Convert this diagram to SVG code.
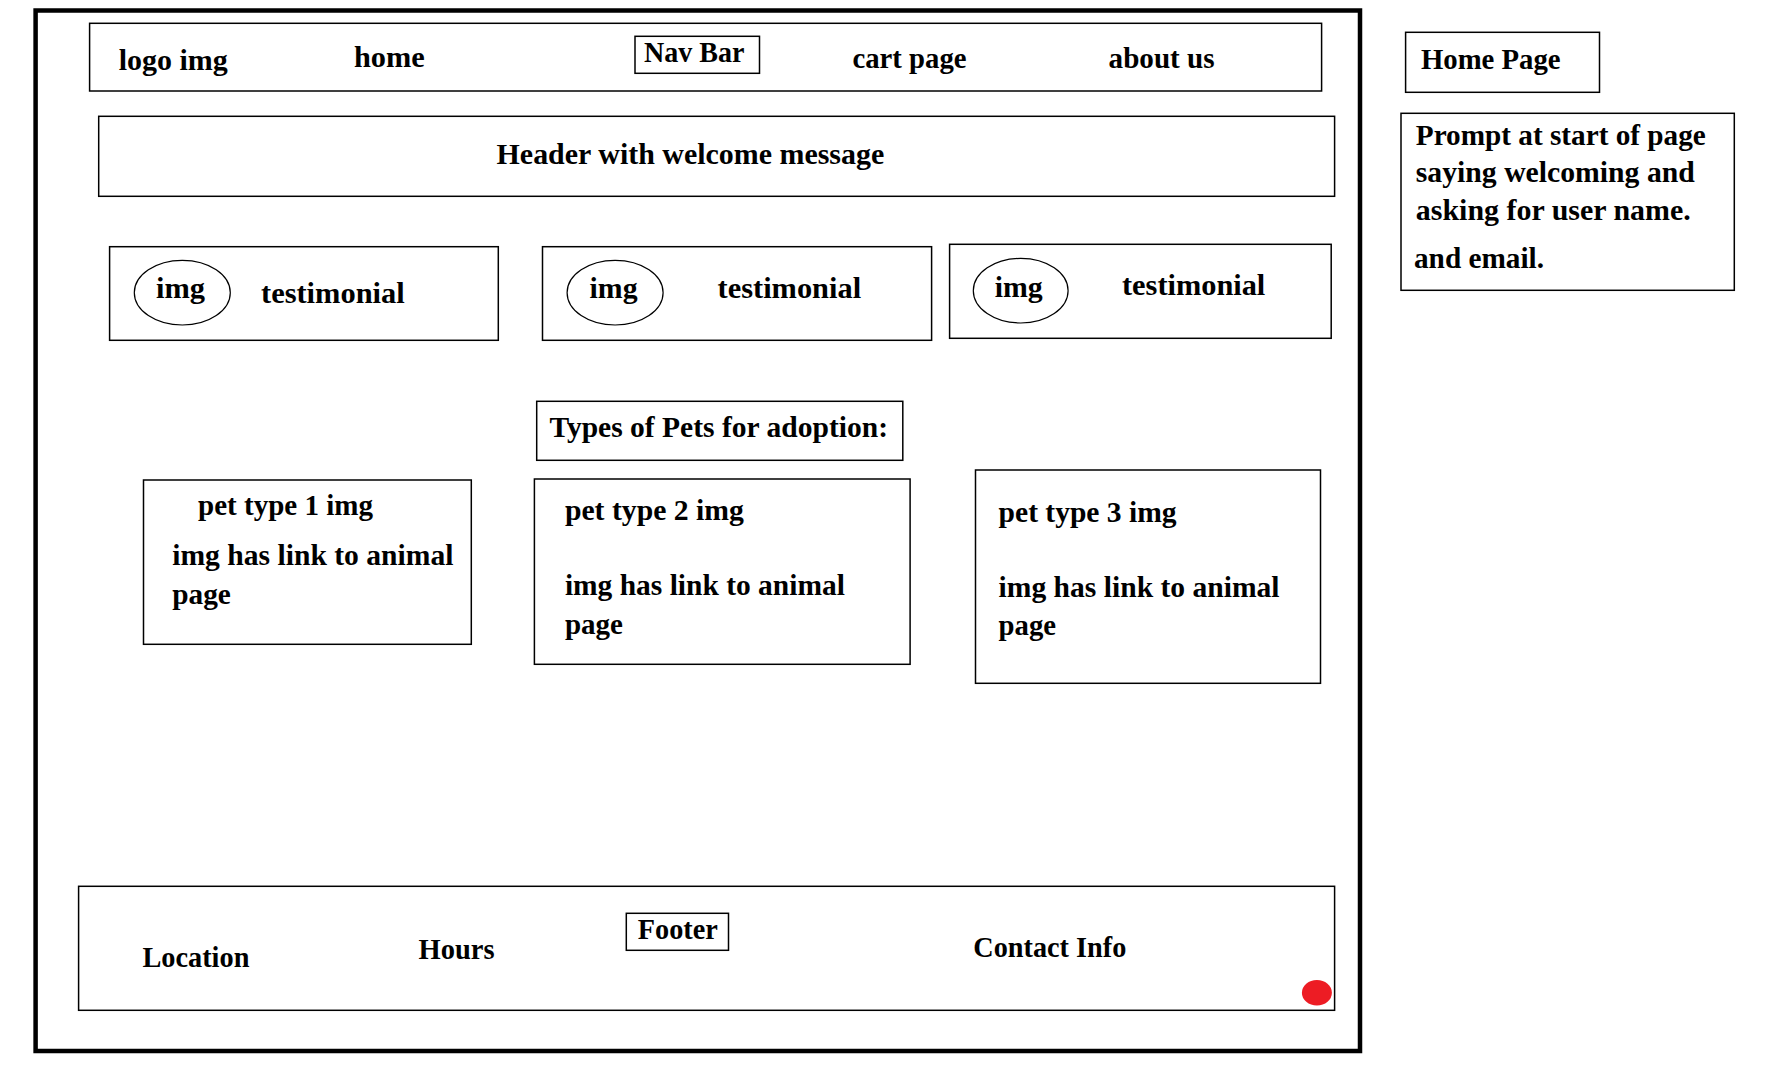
<svg xmlns="http://www.w3.org/2000/svg" width="1784" height="1087" viewBox="0 0 1784 1087">
<style>
.box{fill:none;stroke:#000;stroke-width:1.5}
.ell{fill:none;stroke:#000;stroke-width:1.2}
text{font-family:"Liberation Serif","DejaVu Serif",serif;font-weight:bold;font-size:29px;fill:#000}
</style>
<rect width="1784" height="1087" fill="#fff"/>
<g id="frame"><rect x="35.6" y="10.5" width="1324.4" height="1040.5" fill="none" stroke="#000" stroke-width="4.5"/></g>
<g id="navbar">
<rect class="box" x="89.6" y="23.3" width="1232" height="67.7"/>
<text x="118.8" y="70" textLength="109" lengthAdjust="spacingAndGlyphs">logo img</text>
<text x="354" y="66.7" textLength="70.8" lengthAdjust="spacingAndGlyphs">home</text>
<rect class="box" x="635" y="36.3" width="124.5" height="37"/>
<text x="644" y="61.7" textLength="100.5" lengthAdjust="spacingAndGlyphs">Nav Bar</text>
<text x="852.5" y="68.3" textLength="114" lengthAdjust="spacingAndGlyphs">cart page</text>
<text x="1108.6" y="67.7" textLength="106" lengthAdjust="spacingAndGlyphs">about us</text>
</g>
<g id="header">
<rect class="box" x="98.7" y="116.3" width="1235.9" height="80"/>
<text x="496.6" y="164" textLength="387.6" lengthAdjust="spacingAndGlyphs">Header with welcome message</text>
</g>
<g id="testimonial1">
<rect class="box" x="109.6" y="246.7" width="388.7" height="93.6"/>
<ellipse class="ell" cx="182.3" cy="292.7" rx="48" ry="32.3"/>
<text x="156" y="298.3" textLength="49" lengthAdjust="spacingAndGlyphs">img</text>
<text x="261" y="303.3" textLength="143.7" lengthAdjust="spacingAndGlyphs">testimonial</text>
</g>
<g id="testimonial2">
<rect class="box" x="542.5" y="246.7" width="389.1" height="93.6"/>
<ellipse class="ell" cx="615.1" cy="292.7" rx="48" ry="32.3"/>
<text x="589.6" y="298.3" textLength="48" lengthAdjust="spacingAndGlyphs">img</text>
<text x="717.6" y="297.7" textLength="143.5" lengthAdjust="spacingAndGlyphs">testimonial</text>
</g>
<g id="testimonial3">
<rect class="box" x="949.6" y="244.3" width="381.6" height="94"/>
<ellipse class="ell" cx="1020.7" cy="290.7" rx="47.4" ry="32.3"/>
<text x="994.7" y="296.7" textLength="48" lengthAdjust="spacingAndGlyphs">img</text>
<text x="1122" y="295" textLength="143.3" lengthAdjust="spacingAndGlyphs">testimonial</text>
</g>
<g id="pet-types-title">
<rect class="box" x="536.7" y="401.3" width="366.1" height="59"/>
<text x="549.4" y="437.3" textLength="338.6" lengthAdjust="spacingAndGlyphs">Types of Pets for adoption:</text>
</g>
<g id="pet1">
<rect class="box" x="143.5" y="480" width="327.8" height="164.3"/>
<text x="198" y="515" textLength="175" lengthAdjust="spacingAndGlyphs">pet type 1 img</text>
<text x="172.2" y="565" textLength="281.3" lengthAdjust="spacingAndGlyphs">img has link to animal</text>
<text x="172.2" y="604" textLength="58.6" lengthAdjust="spacingAndGlyphs">page</text>
</g>
<g id="pet2">
<rect class="box" x="534.4" y="479" width="375.7" height="185.3"/>
<text x="564.9" y="520" textLength="179" lengthAdjust="spacingAndGlyphs">pet type 2 img</text>
<text x="564.9" y="595" textLength="280" lengthAdjust="spacingAndGlyphs">img has link to animal</text>
<text x="564.9" y="634" textLength="58" lengthAdjust="spacingAndGlyphs">page</text>
</g>
<g id="pet3">
<rect class="box" x="975.5" y="470" width="345" height="213.3"/>
<text x="998.6" y="521.7" textLength="178" lengthAdjust="spacingAndGlyphs">pet type 3 img</text>
<text x="998.6" y="597.3" textLength="281" lengthAdjust="spacingAndGlyphs">img has link to animal</text>
<text x="998.6" y="635" textLength="57.5" lengthAdjust="spacingAndGlyphs">page</text>
</g>
<g id="footer">
<rect class="box" x="78.6" y="886.3" width="1256" height="124"/>
<text x="142.4" y="967.3" textLength="107" lengthAdjust="spacingAndGlyphs">Location</text>
<text x="418.5" y="959.3" textLength="76" lengthAdjust="spacingAndGlyphs">Hours</text>
<rect class="box" x="626.3" y="913.3" width="102.2" height="37"/>
<text x="637.8" y="939.3" textLength="80" lengthAdjust="spacingAndGlyphs">Footer</text>
<text x="973.3" y="956.7" textLength="153" lengthAdjust="spacingAndGlyphs">Contact Info</text>
<ellipse cx="1316.9" cy="992.8" rx="15" ry="12.8" fill="#ed1c24"/>
</g>
<g id="home-page-label">
<rect class="box" x="1405.6" y="32.3" width="193.9" height="60"/>
<text x="1420.9" y="69.3" textLength="139.7" lengthAdjust="spacingAndGlyphs">Home Page</text>
</g>
<g id="prompt-note">
<rect class="box" x="1401" y="113.3" width="333.3" height="177"/>
<text x="1415.8" y="145" textLength="290" lengthAdjust="spacingAndGlyphs">Prompt at start of page</text>
<text x="1415.8" y="181.7" textLength="279" lengthAdjust="spacingAndGlyphs">saying welcoming and</text>
<text x="1415.8" y="220" textLength="275" lengthAdjust="spacingAndGlyphs">asking for user name.</text>
<text x="1414" y="267.7" textLength="130" lengthAdjust="spacingAndGlyphs">and email.</text>
</g>
<g id="connectors"/>
</svg>
